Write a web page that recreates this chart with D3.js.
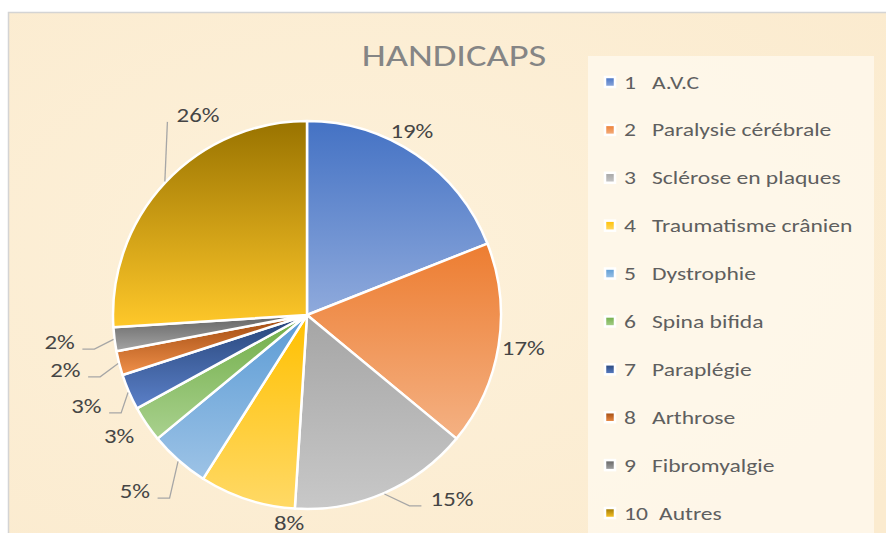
<!DOCTYPE html>
<html>
<head>
<meta charset="utf-8">
<script src="https://cdn.jsdelivr.net/npm/d3@7"></script>
<style>
  html, body { margin: 0; padding: 0; background: #fff; }
  svg { display: block; }
</style>
</head>
<body>
<div id="container"></div>
<script>
// chart data
var numbers = ["1", "2", "3", "4", "5", "6", "7", "8", "9", "10"];
var names = ["A.V.C", "Paralysie cérébrale", "Sclérose en plaques", "Traumatisme crânien",
             "Dystrophie", "Spina bifida", "Paraplégie", "Arthrose", "Fibromyalgie", "Autres"];
var values = [19, 17, 15, 8, 5, 3, 3, 2, 2, 26];

// gradient colours per slice (top -> bottom)
var topColors = ["#4472c4", "#ed7d31", "#a5a5a5", "#ffc000", "#5b9bd5",
                 "#70ad47", "#264478", "#9e480e", "#636363", "#997300"];
var bottomColors = ["#8faadc", "#f4b183", "#c8c8c8", "#ffd966", "#9dc3e6",
                    "#a9d18e", "#5b80c8", "#f0904a", "#a5a5a5", "#ffc82a"];

// label placement tweaks (angle offset in degrees, distance from centre), like the moved labels in Excel
var labelAngleShift = [-4.4, 0, -14.7, -13.1, 2.8, 1.2, 0.8, 1.4, 0.7, 18.1];
var labelDistance = [211, 219, 235, 210, 247, 224, 239, 248, 249, 227];
var showLeader = [false, false, true, false, true, false, true, true, true, true];

var width = 886, height = 533;
var cx = 307, cy = 315, radius = 194;
var font = "Carlito, Lato, 'Liberation Sans', sans-serif";
var stretchK = 1.24; // the original font runs wider than Lato

function stretch(sel) {
    sel.each(function() {
        var w = this.getComputedTextLength();
        d3.select(this)
            .attr("textLength", w * stretchK)
            .attr("lengthAdjust", "spacingAndGlyphs");
    });
}

var svg = d3.select("#container").append("svg")
    .attr("width", width)
    .attr("height", height);

var defs = svg.append("defs");

// chart area background (parchment)
var bg = defs.append("radialGradient").attr("id", "bg")
    .attr("cx", "40%").attr("cy", "45%").attr("r", "75%");
bg.append("stop").attr("offset", "0%").attr("stop-color", "#fdf1da");
bg.append("stop").attr("offset", "100%").attr("stop-color", "#fbebcf");

svg.append("rect")
    .attr("x", 8.5).attr("y", 12.5)
    .attr("width", width).attr("height", height)
    .attr("fill", "url(#bg)")
    .attr("stroke", "#d4d4d4")
    .attr("stroke-width", 1.5);

// legend box
svg.append("rect")
    .attr("x", 588).attr("y", 56)
    .attr("width", 286).attr("height", height)
    .attr("fill", "#fef8ec")
    .attr("opacity", 0.85);

// title
svg.append("text")
    .attr("x", 454).attr("y", 66)
    .attr("text-anchor", "middle")
    .attr("font-family", font)
    .attr("font-size", 31)
    .attr("font-weight", 300)
    .attr("fill", "#858585")
    .text("HANDICAPS")
    .call(stretch);

// gradients
values.forEach(function(v, i) {
    var g = defs.append("linearGradient").attr("id", "grad" + i)
        .attr("x1", 0).attr("y1", 0).attr("x2", 0).attr("y2", 1);
    g.append("stop").attr("offset", "0%").attr("stop-color", topColors[i]);
    g.append("stop").attr("offset", "100%").attr("stop-color", bottomColors[i]);
});

var pie = d3.pie().sort(null).value(function(d) { return d; });
var arcs = pie(values);

var arc = d3.arc().innerRadius(0).outerRadius(radius);

var pieG = svg.append("g").attr("transform", "translate(" + cx + "," + cy + ")");

pieG.selectAll(".slice")
    .data(arcs)
    .enter().append("path")
    .attr("class", "slice")
    .attr("d", arc)
    .attr("fill", function(d, i) { return "url(#grad" + i + ")"; })
    .attr("stroke", "#ffffff")
    .attr("stroke-width", 2.5)
    .attr("stroke-linejoin", "round");

// data labels
var pct = d3.format(".0%");
var labelG = pieG.append("g");

arcs.forEach(function(d, i) {
    var mid = (d.startAngle + d.endAngle) / 2;
    var a = mid + labelAngleShift[i] * Math.PI / 180;
    var lx = labelDistance[i] * Math.sin(a);
    var ly = -labelDistance[i] * Math.cos(a);
    var baseline = ly + 6;

    var t = labelG.append("text")
        .attr("x", lx).attr("y", baseline)
        .attr("text-anchor", "middle")
        .attr("font-family", font)
        .attr("font-size", 20)
        .attr("fill", "#454545")
        .text(pct(values[i] / 100))
        .call(stretch);

    if (showLeader[i]) {
        var tw = t.node().getComputedTextLength() * stretchK;
        var sx = (radius + 1) * Math.sin(mid);
        var sy = -(radius + 1) * Math.cos(mid);
        var ex = lx < sx ? lx + tw / 2 + 4 : lx - tw / 2 - 4;
        var ey = baseline;
        var pts;
        if (Math.abs(ex - sx) < 13) {
            pts = [[sx, sy], [ex, ey]];
        } else {
            var elbow = lx < sx ? ex + 12 : ex - 12;
            pts = [[sx, sy], [elbow, ey], [ex, ey]];
        }
        labelG.insert("path", "text")
            .attr("d", d3.line()(pts))
            .attr("fill", "none")
            .attr("stroke", "#a6a6a6")
            .attr("stroke-width", 1.3);
    }
});

// legend
var ly = d3.scaleLinear().domain([0, 9]).range([82, 513]);
var legend = svg.append("g");

var items = legend.selectAll(".item")
    .data(names)
    .enter().append("g")
    .attr("class", "item")
    .attr("transform", function(d, i) { return "translate(0," + ly(i) + ")"; });

items.append("rect")
    .attr("x", 605).attr("y", -5)
    .attr("width", 10).attr("height", 10)
    .attr("fill", function(d, i) { return "url(#grad" + i + ")"; })
    .attr("stroke", "#ffffff")
    .attr("stroke-width", 2.5);

items.append("text")
    .attr("x", 624).attr("y", 6.5)
    .attr("font-family", font)
    .attr("font-size", 19)
    .attr("fill", "#5f5f5f")
    .text(function(d, i) { return numbers[i]; })
    .call(stretch);

items.append("text")
    .attr("x", function(d, i) { return numbers[i].length > 1 ? 659 : 652; })
    .attr("y", 6.5)
    .attr("font-family", font)
    .attr("font-size", 19)
    .attr("fill", "#5f5f5f")
    .text(function(d) { return d; })
    .call(stretch);
</script>
</body>
</html>
